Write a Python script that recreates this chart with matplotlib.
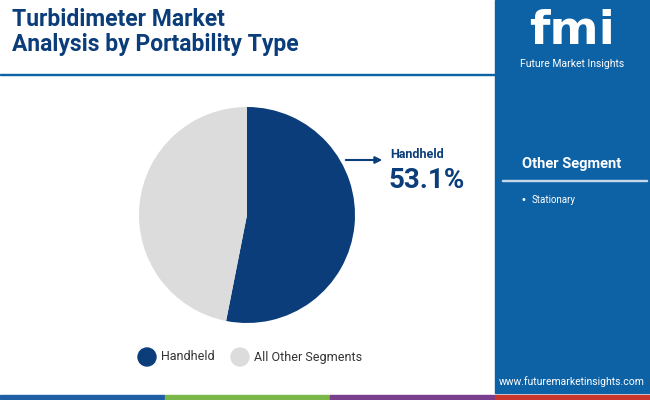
import matplotlib
matplotlib.use("Agg")
import matplotlib.pyplot as plt
from matplotlib.patches import Rectangle, Circle

categories = ["Handheld", "All Other Segments"]
values = [53.1, 46.9]
colors = ["#0b3d7a", "#dcdcdc"]
other_segments = ["Stationary"]

W, H = 650, 400
fig = plt.figure(figsize=(6.5, 4), dpi=100)
fig.patch.set_facecolor("white")
bg = fig.add_axes([0, 0, 1, 1]); bg.set_xlim(0, W); bg.set_ylim(H, 0); bg.axis("off")

bg.add_patch(Rectangle((495, 0), 155, 393, color="#0d62a6"))
bg.add_patch(Rectangle((0, 74), 495, 1.2, color="#0d62a6"))
for x0, x1, c in [(0, 165, "#1f5fa6"), (165, 330, "#7ab648"), (330, 495, "#7a3e8e"), (495, 650, "#c9362c")]:
    bg.add_patch(Rectangle((x0, 395), x1 - x0, 5, color=c))

bg.text(12, 32, "Turbidimeter Market\nAnalysis by Portability Type", fontsize=16.5, fontweight="bold",
        color="#0b3d7a", va="center", ha="left", family="Roboto", linespacing=1.1)
bg.text(572, 32, "fmi", fontsize=34, fontweight="bold", color="white", ha="center", va="center", family="DejaVu Sans")
bg.text(572, 64, "Future Market Insights", fontsize=7.5, color="white", ha="center", va="center", family="Roboto")
bg.text(572, 164, "Other Segment", fontsize=10.5, fontweight="bold", color="white", ha="center", va="center", family="Roboto")
bg.add_patch(Rectangle((502, 180), 145, 1.2, color="#c8d8ea"))
for i, s in enumerate(other_segments):
    bg.text(520, 200 + i * 16, "•", fontsize=7, color="white", va="center")
    bg.text(532, 200 + i * 16, s, fontsize=7, color="white", va="center", family="Roboto")
bg.text(572, 382, "www.futuremarketinsights.com", fontsize=7.5, color="white", ha="center", va="center", family="Roboto")

pax = fig.add_axes([(247 - 108) / W, 1 - (215 + 108) / H, 216 / W, 216 / H])
pax.pie(values, colors=colors, startangle=90, counterclock=False, radius=1)
pax.set_xlim(-1, 1); pax.set_ylim(-1, 1)
pax.set_aspect("equal")

bg.annotate("", xy=(385, 160), xytext=(343, 160),
            arrowprops=dict(arrowstyle="-|>", color="#0b3d7a", lw=1.5, mutation_scale=10))
bg.text(390, 154, categories[0], fontsize=9, fontweight="bold", color="#0b3d7a", va="center", family="Roboto")
bg.text(389, 181, f"{values[0]}%", fontsize=20, fontweight="bold", color="#0b3d7a", va="center", family="Roboto")

for x, c, lab in [(147, colors[0], categories[0]), (240, colors[1], categories[1])]:
    bg.add_patch(Circle((x, 357), 9, color=c))
    bg.text(x + 14, 357, lab, fontsize=9, color="#333333", va="center", family="Roboto")

fig.savefig("out.png", dpi=100)
